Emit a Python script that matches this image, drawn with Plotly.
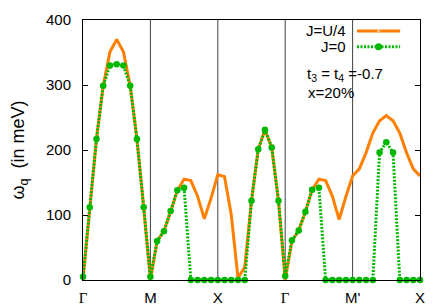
import plotly.graph_objects as go

# k-path index (10 steps per segment)
k_index = list(range(51))

omega_JU4 = [0, 112, 217, 299, 351, 370, 351, 299, 217, 112,
             0, 60, 75, 105, 138, 155, 153, 129, 94, 126,
             162, 159, 100, 3, 20, 122, 201, 231, 204, 122,
             0, 60, 76, 105, 139, 155, 153, 129, 93, 128,
             160, 171, 196, 226, 245, 253, 245, 226, 196, 171,
             160]

omega_J0 = [5, 112, 217, 299, 330, 332, 330, 299, 217, 112,
            5, 60, 75, 106, 138, 142, 0, 0, 0, 0,
            0, 0, 0, 0, 0, 122, 201, 231, 204, 122,
            6, 61, 76, 105, 139, 142, 0, 0, 0, 0,
            0, 0, 0, 0, 196, 212, 196, 0, 0, 0,
            0]

tick_positions = [0, 10, 20, 30, 40, 50]
G = '<span style="font-family:Liberation Serif">Γ</span>'
tick_labels = [G, "M", "X", G, "M'", "X"]
y_ticks = [0, 100, 200, 300, 400]

ORANGE = "#ff8000"
GREEN = "#00b800"

fig = go.Figure()
fig.add_trace(go.Scatter(x=k_index, y=omega_JU4, mode="lines",
                         line=dict(color=ORANGE, width=3), name="J=U/4"))
fig.add_trace(go.Scatter(x=k_index, y=omega_J0, mode="lines+markers",
                         line=dict(color=GREEN, width=3, dash="2px,1.5px"),
                         marker=dict(color=GREEN, size=6.5, symbol="circle"),
                         cliponaxis=False, name="J=0"))

for tv in tick_positions[1:-1]:
    fig.add_vline(x=tv, line_color="#404040", line_width=1, layer="below")

# legend (gnuplot style: text left, sample right)
fig.add_shape(type="line", xref="paper", yref="paper", x0=0.813, x1=0.941,
              y0=0.958, y1=0.958, line=dict(color=ORANGE, width=3))
fig.add_shape(type="rect", xref="paper", yref="paper", xsizemode="pixel", ysizemode="pixel",
              xanchor=0.877, yanchor=0.958, x0=-1.5, x1=1.5, y0=-1.5, y1=1.5,
              fillcolor="#ffc080", line=dict(width=0))
fig.add_shape(type="line", xref="paper", yref="paper", x0=0.813, x1=0.941,
              y0=0.897, y1=0.897, line=dict(color=GREEN, width=3, dash="2px,1.5px"))
fig.add_shape(type="circle", xref="paper", yref="paper", xsizemode="pixel", ysizemode="pixel",
              xanchor=0.877, yanchor=0.897, x0=-3.5, x1=3.5, y0=-3.5, y1=3.5,
              fillcolor=GREEN, line=dict(width=0))

ann_font = dict(family="Liberation Sans", size=15, color="black")
fig.add_annotation(text="J=U/4", xref="paper", yref="paper", x=0.785, y=0.958,
                   xanchor="right", yanchor="middle", showarrow=False, font=ann_font)
fig.add_annotation(text="J=0", xref="paper", yref="paper", x=0.785, y=0.897,
                   xanchor="right", yanchor="middle", showarrow=False, font=ann_font)
fig.add_annotation(text="t<sub>3</sub> = t<sub>4</sub> =-0.7", xref="paper", yref="paper",
                   x=0.66, y=0.79, xanchor="left", yanchor="middle", showarrow=False, font=ann_font)
fig.add_annotation(text="x=20%", xref="paper", yref="paper", x=0.663, y=0.722,
                   xanchor="left", yanchor="middle", showarrow=False, font=ann_font)

# page body has an 8px margin; figure sized so the plot area lands where the reference's does
fig.update_layout(
    width=428, height=297,
    margin=dict(l=75, r=16, t=12, b=25),
    plot_bgcolor="white", paper_bgcolor="white",
    showlegend=False,
    font=dict(family="Liberation Sans", size=15, color="black"),
)
fig.update_xaxes(range=[0, 50], tickvals=tick_positions, ticktext=tick_labels,
                 showgrid=False, zeroline=False, showline=True, mirror=True,
                 linecolor="black", linewidth=1, ticks="", ticklabelstandoff=4,
                 automargin=False)
fig.update_yaxes(range=[0, 400], tickvals=y_ticks, showgrid=False, zeroline=False,
                 showline=True, mirror="ticks", linecolor="black", linewidth=1,
                 ticks="inside", ticklen=5, tickcolor="black", ticklabelstandoff=8,
                 automargin=False,
                 title=dict(text="ω<sub>q</sub>\u00a0 (in meV)", standoff=20))

fig.write_html("out.html")
